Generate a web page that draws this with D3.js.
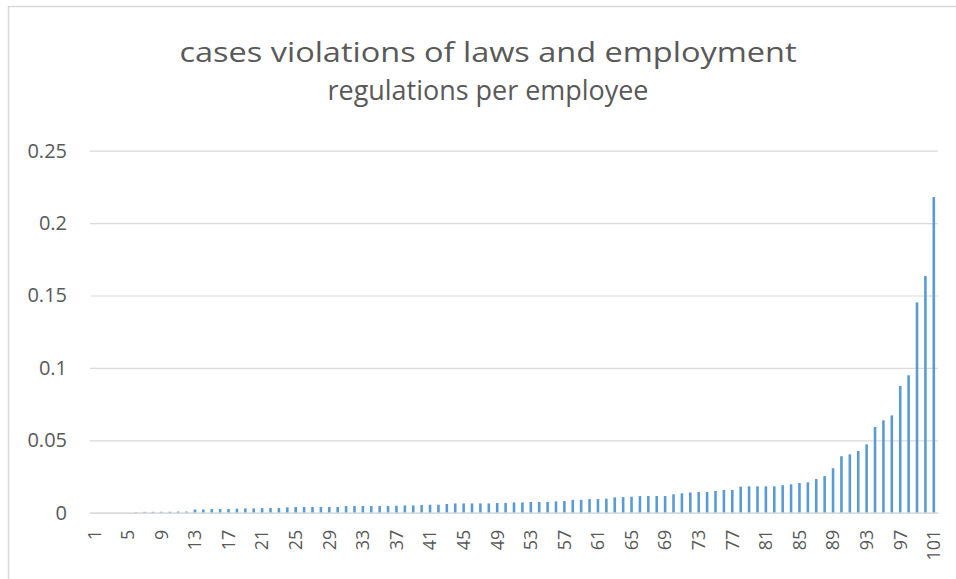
<!DOCTYPE html>
<html>
<head>
<meta charset="utf-8">
<script src="https://cdn.jsdelivr.net/npm/d3@7"></script>
<style>
  html, body { margin: 0; padding: 0; background: #fff; }
  svg { display: block; }
</style>
</head>
<body>
<svg id="chart" width="956" height="579"></svg>
<script>
const titleLines = ["cases violations of laws and employment", "regulations per employee"];
const categories = d3.range(1, 102);
const values = [
  0, 0, 0, 0, 0, 0.0003, 0.0006, 0.0006, 0.0006, 0.0006,
  0.0008, 0.0008, 0.0022, 0.0022, 0.0025, 0.0025, 0.0025, 0.0028, 0.003, 0.003,
  0.0032, 0.0032, 0.0032, 0.0037, 0.0039, 0.0039, 0.0039, 0.0039, 0.0039, 0.0039,
  0.0046, 0.0046, 0.0046, 0.0046, 0.0046, 0.0046, 0.0048, 0.005, 0.005, 0.0053,
  0.0055, 0.0055, 0.006, 0.0064, 0.0064, 0.0064, 0.0064, 0.0064, 0.0067, 0.0067,
  0.0071, 0.0071, 0.0074, 0.0074, 0.0074, 0.0078, 0.008, 0.0089, 0.0089, 0.0094,
  0.0094, 0.0097, 0.0106, 0.0108, 0.011, 0.0115, 0.0115, 0.0115, 0.0115, 0.0127,
  0.0134, 0.014, 0.0143, 0.0143, 0.015, 0.0157, 0.0157, 0.018, 0.0182, 0.0182,
  0.0182, 0.0182, 0.019, 0.0196, 0.0205, 0.021, 0.0233, 0.0253, 0.0307, 0.039,
  0.0403, 0.0426, 0.0472, 0.0592, 0.0638, 0.0672, 0.0875, 0.0949, 0.1453, 0.1635,
  0.218
];
const yTicks = [0, 0.05, 0.1, 0.15, 0.2, 0.25];
const xTickLabels = categories.filter((d, i) => i % 4 === 0);

const svg = d3.select("#chart");
const textColor = "#595959";
const gridColor = "#D9D9D9";
const barColor = "#5B9BD5";
const font = "'Open Sans', 'Liberation Sans', sans-serif";

// chart frame
svg.append("rect")
  .attr("x", 8.5).attr("y", 6.5)
  .attr("width", 1000).attr("height", 700)
  .attr("fill", "#fff").attr("stroke", gridColor).attr("stroke-width", 1.5);

const plotLeft = 90, plotRight = 938, plotTop = 150.7, plotBottom = 512.7;

const x = d3.scaleBand().domain(categories).range([plotLeft, plotRight]).paddingInner(0.69).paddingOuter(0.345);
const y = d3.scaleLinear().domain([0, 0.25]).range([plotBottom, plotTop]);

// title
const titleWidths = [617, 321];
const title = svg.append("text")
  .attr("text-anchor", "middle")
  .attr("font-family", font)
  .attr("font-weight", 400)
  .attr("font-size", 27)
  .attr("fill", textColor);
title.selectAll("tspan").data(titleLines).join("tspan")
  .attr("x", 488)
  .attr("y", (d, i) => 62 + i * 38)
  .attr("textLength", (d, i) => titleWidths[i])
  .attr("lengthAdjust", "spacingAndGlyphs")
  .text(d => d);

// gridlines + y labels
const yAxis = d3.axisLeft(y).tickValues(yTicks).tickSize(-(plotRight - plotLeft)).tickPadding(23)
  .tickFormat(d => d3.format("")(+d.toFixed(2)));
const gy = svg.append("g").attr("transform", `translate(${plotLeft},0)`).call(yAxis);
gy.select(".domain").remove();
gy.selectAll(".tick line").attr("stroke", gridColor).attr("stroke-width", 1.2);
gy.selectAll(".tick text").attr("font-family", font).attr("font-size", 20).attr("fill", textColor);

// bars
svg.append("g").selectAll("rect").data(values).join("rect")
  .attr("x", (d, i) => x(categories[i]))
  .attr("width", x.bandwidth())
  .attr("y", d => y(d))
  .attr("height", d => y(0) - y(d))
  .attr("fill", barColor);

// x axis
const xAxis = d3.axisBottom(x).tickValues(xTickLabels).tickSize(0).tickPadding(0);
const gx = svg.append("g").attr("transform", `translate(0,${plotBottom})`).call(xAxis);
gx.select(".domain").attr("stroke", gridColor).attr("stroke-width", 1.2);
gx.selectAll(".tick text")
  .attr("font-family", font).attr("font-size", 18).attr("fill", textColor)
  .attr("text-anchor", "end")
  .attr("transform", "translate(0,17) rotate(-90)")
  .attr("x", 0).attr("y", 0).attr("dy", "0.35em");
</script>
</body>
</html>
